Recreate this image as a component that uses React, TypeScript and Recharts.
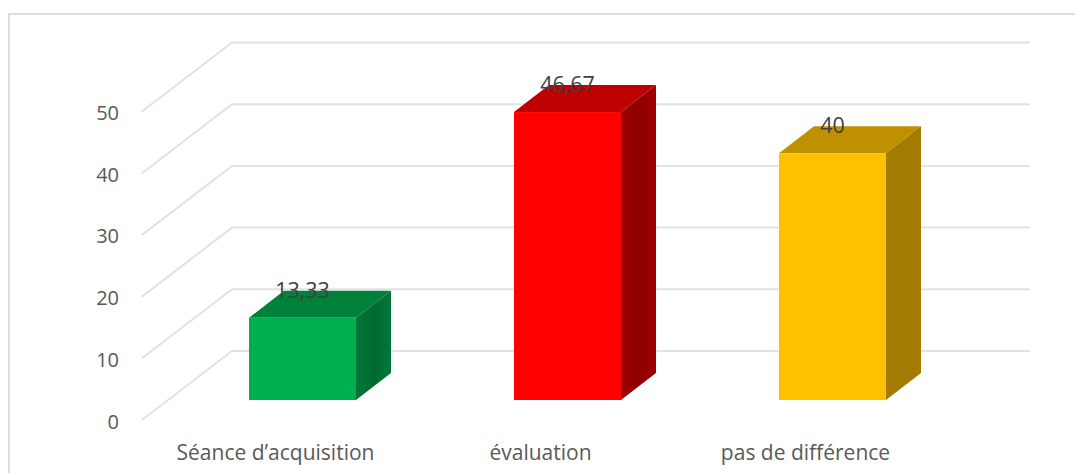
import { Bar, BarChart, CartesianGrid, LabelList, XAxis, YAxis } from 'recharts';

const CATEGORIES = ['Séance d’acquisition', 'évaluation', 'pas de différence'];
const VALUES = [13.33, 46.67, 40];
const FRONT_COLORS = ['#00b050', '#ff0000', '#ffc000'];
const TOP_COLORS = ['#00813a', '#bf0000', '#bf9000'];
const SIDE_COLORS = ['#04763a', '#9f0000', '#a37b00'];
const SIDE_DARK_COLORS = ['#006a2e', '#8f0000', '#a37b00'];
const Y_TICKS = [0, 10, 20, 30, 40, 50];

const FONT = '"Open Sans", sans-serif';
const GRID_COLOR = '#e2e2e2';

// how far the bars stick out backwards
const BAR_DEPTH_X = 35;
const BAR_DEPTH_Y = 27;

const data = CATEGORIES.map((name, i) => ({ name, value: VALUES[i] }));

// floor line plus back wall line, offset from the plane the bars stand on
function GridLine(props: any) {
  const { y1 } = props;
  const points = `142,${y1 + 20} 232,${y1 - 49} 1030,${y1 - 49}`;
  return <polyline points={points} fill="none" stroke={GRID_COLOR} strokeWidth={2} />;
}

function Box3D(props: any) {
  const { x, y, width, height, index } = props;
  const dx = BAR_DEPTH_X;
  const dy = BAR_DEPTH_Y;
  return (
    <g>
      <defs>
        <linearGradient id={`side-${index}`} x1="0" y1="0" x2="1" y2="0">
          <stop offset="0" stopColor={SIDE_COLORS[index]} />
          <stop offset="0.5" stopColor={SIDE_DARK_COLORS[index]} />
          <stop offset="1" stopColor={SIDE_COLORS[index]} />
        </linearGradient>
      </defs>
      <polygon
        points={`${x},${y} ${x + dx},${y - dy} ${x + width + dx},${y - dy} ${x + width},${y}`}
        fill={TOP_COLORS[index]}
      />
      <polygon
        points={`${x + width},${y} ${x + width + dx},${y - dy} ${x + width + dx},${y + height - dy} ${x + width},${y + height}`}
        fill={`url(#side-${index})`}
      />
      <rect x={x} y={y} width={width} height={height} fill={FRONT_COLORS[index]} />
    </g>
  );
}

function ValueTick(props: any) {
  const { x, y, payload } = props;
  return (
    <text x={x - 43} y={y + 21} textAnchor="end" dominantBaseline="central" fontSize={20} fontFamily={FONT} fill="#595959">
      {payload.value}
    </text>
  );
}

// category names sit a little left of their bars
function CategoryTick(props: any) {
  const { x, y, payload } = props;
  return (
    <text x={x - 27} y={y + 44} textAnchor="middle" dominantBaseline="central" fontSize={21} fontFamily={FONT} fill="#595959">
      {payload.value}
    </text>
  );
}

export default function App() {
  return (
    <div style={{ position: 'absolute', left: 0, top: 0, width: 1075, height: 473, background: '#fff', overflow: 'hidden' }}>
      <div
        style={{
          position: 'absolute',
          left: 8,
          top: 13,
          width: 1067,
          height: 460,
          boxSizing: 'border-box',
          borderTop: '2px solid #dcdcdc',
          borderLeft: '2px solid #dcdcdc',
        }}
      />
      <BarChart
        width={1075}
        height={473}
        data={data}
        margin={{ top: 91.5, right: 110, bottom: 43, left: 120 }}
        barSize={107}
        style={{ position: 'absolute', left: 0, top: 0 }}
      >
        <CartesianGrid vertical={false} horizontal={<GridLine />} />
        <XAxis dataKey="name" axisLine={false} tickLine={false} tick={<CategoryTick />} interval={0} />
        <YAxis domain={[0, 50]} ticks={Y_TICKS} width={50} axisLine={false} tickLine={false} tick={<ValueTick />} />
        <Bar dataKey="value" isAnimationActive={false} shape={<Box3D />}>
          <LabelList
            dataKey="value"
            position="top"
            offset={20}
            formatter={(v: any) => String(v).replace('.', ',')}
            style={{ fontSize: 21.5, fontFamily: FONT, fill: '#404040' }}
          />
        </Bar>
      </BarChart>
    </div>
  );
}
